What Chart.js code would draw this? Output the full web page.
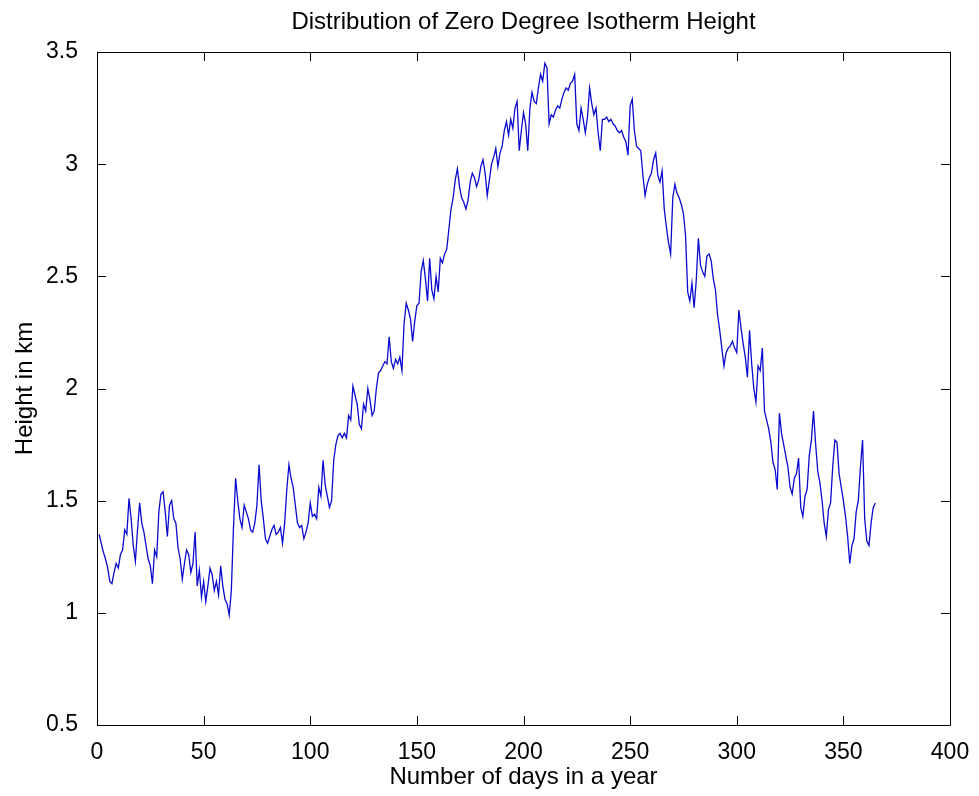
<!DOCTYPE html>
<html>
<head>
<meta charset="utf-8">
<title>Distribution of Zero Degree Isotherm Height</title>
<script src="https://cdn.jsdelivr.net/npm/chart.js@4.4.1/dist/chart.umd.min.js"></script>
<style>
  html, body { margin: 0; padding: 0; background: #fff; }
  canvas { display: block; }
</style>
</head>
<body>
<canvas id="chart" width="979" height="796"></canvas>
<script>
// height of the zero degree isotherm (km), one value per day
const heightKm = [
  1.35, 1.31, 1.27, 1.24, 1.20, 1.14, 1.13, 1.18, 1.22, 1.20,
  1.26, 1.28, 1.37, 1.35, 1.51, 1.42, 1.30, 1.23, 1.37, 1.49,
  1.40, 1.36, 1.30, 1.24, 1.21, 1.13, 1.28, 1.25, 1.45, 1.53,
  1.54, 1.45, 1.34, 1.48, 1.50, 1.42, 1.40, 1.29, 1.24, 1.15,
  1.22, 1.28, 1.26, 1.18, 1.22, 1.36, 1.12, 1.19, 1.07, 1.14,
  1.05, 1.12, 1.20, 1.17, 1.10, 1.14, 1.08, 1.21, 1.12, 1.06,
  1.04, 0.99, 1.10, 1.38, 1.60, 1.50, 1.42, 1.38, 1.48, 1.45,
  1.42, 1.37, 1.36, 1.40, 1.48, 1.66, 1.50, 1.42, 1.33, 1.31,
  1.34, 1.37, 1.39, 1.35, 1.36, 1.38, 1.31, 1.40, 1.55, 1.66,
  1.60, 1.56, 1.48, 1.40, 1.38, 1.39, 1.33, 1.36, 1.40, 1.49,
  1.43, 1.44, 1.42, 1.56, 1.52, 1.68, 1.57, 1.52, 1.47, 1.50,
  1.68, 1.75, 1.79, 1.80, 1.78, 1.80, 1.78, 1.88, 1.86, 2.01,
  1.97, 1.93, 1.84, 1.82, 1.93, 1.90, 2.00, 1.95, 1.88, 1.90,
  2.00, 2.07, 2.08, 2.10, 2.12, 2.11, 2.23, 2.12, 2.09, 2.13,
  2.11, 2.14, 2.08, 2.29, 2.38, 2.35, 2.31, 2.21, 2.30, 2.37,
  2.38, 2.52, 2.57, 2.49, 2.39, 2.58, 2.44, 2.40, 2.50, 2.43,
  2.58, 2.56, 2.60, 2.62, 2.71, 2.80, 2.85, 2.93, 2.98, 2.90,
  2.85, 2.83, 2.80, 2.84, 2.92, 2.96, 2.94, 2.90, 2.93, 2.99,
  3.02, 2.96, 2.86, 2.93, 3.00, 3.03, 3.07, 2.99, 3.05, 3.08,
  3.15, 3.19, 3.13, 3.20, 3.16, 3.25, 3.28, 3.06, 3.15, 3.23,
  3.18, 3.06, 3.25, 3.32, 3.28, 3.27, 3.34, 3.40, 3.37, 3.45,
  3.43, 3.18, 3.22, 3.21, 3.24, 3.26, 3.25, 3.29, 3.32, 3.34,
  3.33, 3.36, 3.37, 3.40, 3.18, 3.15, 3.25, 3.20, 3.14, 3.21,
  3.34, 3.27, 3.22, 3.25, 3.14, 3.06, 3.20, 3.20, 3.21, 3.19,
  3.20, 3.18, 3.17, 3.15, 3.14, 3.15, 3.12, 3.10, 3.04, 3.26,
  3.29, 3.15, 3.08, 3.07, 3.06, 2.95, 2.86, 2.91, 2.94, 2.96,
  3.02, 3.05, 2.95, 2.92, 2.97, 2.80, 2.72, 2.65, 2.60, 2.85,
  2.91, 2.87, 2.85, 2.82, 2.78, 2.68, 2.43, 2.39, 2.47, 2.36,
  2.48, 2.67, 2.55, 2.52, 2.50, 2.59, 2.60, 2.57, 2.49, 2.44,
  2.33, 2.26, 2.18, 2.10, 2.16, 2.18, 2.19, 2.21, 2.18, 2.16,
  2.35, 2.27, 2.20, 2.14, 2.05, 2.26, 2.11, 2.00, 1.94, 2.10,
  2.08, 2.18, 1.90, 1.86, 1.82, 1.76, 1.67, 1.64, 1.55, 1.89,
  1.80, 1.75, 1.70, 1.65, 1.56, 1.53, 1.60, 1.62, 1.69, 1.47,
  1.43, 1.52, 1.55, 1.70, 1.77, 1.90, 1.75, 1.63, 1.58, 1.50,
  1.40, 1.34, 1.46, 1.49, 1.65, 1.77, 1.76, 1.62, 1.56, 1.50,
  1.43, 1.34, 1.22, 1.30, 1.33, 1.45, 1.50, 1.65, 1.77, 1.42,
  1.32, 1.30, 1.40, 1.47, 1.49
];

// day numbers 1..365
const days = [];
for (let i = 0; i < heightKm.length; i++) {
  days.push(i + 1);
}

const xTicks = [0, 50, 100, 150, 200, 250, 300, 350, 400];
const yTicks = [0.5, 1, 1.5, 2, 2.5, 3, 3.5];
const titleText = "Distribution of Zero Degree Isotherm Height";

const points = [];
for (let i = 0; i < days.length; i++) {
  points.push({ x: days[i], y: heightKm[i] });
}

const font = "'Liberation Sans', Arial, sans-serif";

//matlab style box with inward ticks on all four sides, title centred on the axes
const boxPlugin = {
  id: "box",
  afterDraw(chart) {
    const ctx = chart.ctx;
    const a = chart.chartArea;
    const xs = chart.scales.x;
    const ys = chart.scales.y;
    const len = 9;
    ctx.save();
    ctx.strokeStyle = "#000";
    ctx.lineWidth = 1;
    ctx.beginPath();
    ctx.rect(a.left + 0.5, a.top + 0.5, a.right - a.left, a.bottom - a.top);
    xTicks.forEach((t) => {
      const px = Math.round(xs.getPixelForValue(t)) + 0.5;
      ctx.moveTo(px, a.bottom);
      ctx.lineTo(px, a.bottom - len);
      ctx.moveTo(px, a.top);
      ctx.lineTo(px, a.top + len);
    });
    yTicks.forEach((t) => {
      const py = Math.round(ys.getPixelForValue(t)) + 0.5;
      ctx.moveTo(a.left, py);
      ctx.lineTo(a.left + len, py);
      ctx.moveTo(a.right, py);
      ctx.lineTo(a.right - len, py);
    });
    ctx.stroke();

    ctx.fillStyle = "#000";
    ctx.font = "24px " + font;
    ctx.textAlign = "center";
    ctx.textBaseline = "middle";
    ctx.fillText(titleText, (a.left + a.right) / 2, 22);
    ctx.restore();
  },
};

new Chart(document.getElementById("chart"), {
  type: "line",
  data: {
    datasets: [
      {
        data: points,
        borderColor: "#0a0ad0",
        borderWidth: 1.3,
        pointRadius: 0,
        tension: 0,
        fill: false,
      },
    ],
  },
  options: {
    responsive: false,
    animation: false,
    devicePixelRatio: 1,
    layout: { padding: { left: 0, right: 29, top: 52, bottom: 0 } },
    plugins: {
      legend: { display: false },
      tooltip: { enabled: false },
      title: { display: false },
    },
    scales: {
      x: {
        type: "linear",
        min: 0,
        max: 400,
        afterFit: (s) => { s.height = 71; },
        afterBuildTicks: (s) => { s.ticks = xTicks.map((v) => ({ value: v })); },
        grid: { display: false },
        border: { display: false },
        ticks: {
          color: "#000",
          padding: 6,
          maxRotation: 0,
          font: { family: font, size: 23 },
        },
        title: {
          display: true,
          text: "Number of days in a year",
          color: "#000",
          font: { family: font, size: 24 },
          padding: { top: 0, bottom: 4 },
        },
      },
      y: {
        type: "linear",
        min: 0.5,
        max: 3.5,
        afterFit: (s) => { s.width = 97; },
        afterBuildTicks: (s) => { s.ticks = yTicks.map((v) => ({ value: v })); },
        grid: { display: false },
        border: { display: false },
        ticks: {
          color: "#000",
          padding: 11,
          font: { family: font, size: 23 },
          callback: (v) => String(v),
        },
        title: {
          display: true,
          text: "Height in km",
          color: "#000",
          font: { family: font, size: 24 },
          padding: { top: 11, bottom: 0 },
        },
      },
    },
  },
  plugins: [boxPlugin],
});
</script>
</body>
</html>
